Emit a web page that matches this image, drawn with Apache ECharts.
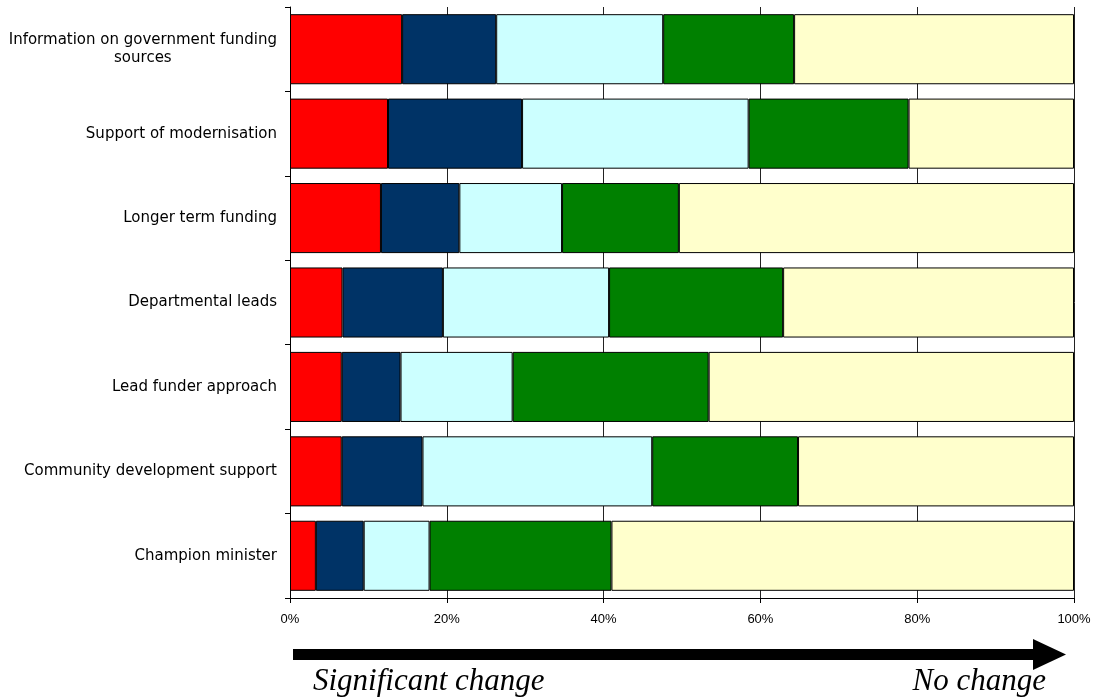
<!DOCTYPE html>
<html>
<head>
<meta charset="utf-8">
<script src="https://cdn.jsdelivr.net/npm/echarts@6/dist/echarts.min.js"></script>
<style>
  html, body { margin: 0; padding: 0; background: #fff; }
  #chart { width: 1095px; height: 697px; }
</style>
</head>
<body>
<div id="chart"></div>
<script>
// Measures, top to bottom
const categories = [
  'Information on government funding\nsources',
  'Support of modernisation',
  'Longer term funding',
  'Departmental leads',
  'Lead funder approach',
  'Community development support',
  'Champion minister'
];

// Share of responses (%) per level, from significant change to no change
const level1 = [14.3, 12.5, 11.6, 6.7, 6.6, 6.6, 3.3];
const level2 = [12.0, 17.1, 10.0, 12.8, 7.5, 10.3, 6.1];
const level3 = [21.3, 28.9, 13.1, 21.2, 14.3, 29.3, 8.4];
const level4 = [16.7, 20.4, 14.9, 22.2, 25.0, 18.6, 23.2];
const level5 = [35.7, 21.1, 50.4, 37.1, 46.6, 35.2, 59.0];

const levelNames = ['Level 1', 'Level 2', 'Level 3', 'Level 4', 'Level 5'];
const levelColors = ['#ff0000', '#003366', '#ccffff', '#008000', '#ffffcc'];
const levelData = [level1, level2, level3, level4, level5];

const xTicks = [0, 20, 40, 60, 80, 100];

const chart = echarts.init(document.getElementById('chart'));

// Multi-line category labels are centred within their own block
function categoryLabel(value) {
  const lines = value.split('\n');
  if (lines.length === 1) return value;
  return lines.map(l => '{c|' + l + '}').join('\n');
}

const labelFont = 'DejaVu Sans, Verdana, sans-serif';
const labelSize = 15;

chart.setOption({
  backgroundColor: '#ffffff',
  animation: false,
  grid: { left: 290, right: 21, top: 7, bottom: 99, containLabel: false },
  xAxis: {
    type: 'value',
    min: 0,
    max: 100,
    interval: 20,
    axisLine: { show: true, lineStyle: { color: '#000', width: 1 } },
    axisTick: { show: true, length: 5, lineStyle: { color: '#000' } },
    splitLine: { show: true, lineStyle: { color: '#222', width: 1 } },
    axisLabel: {
      margin: 15,
      fontFamily: 'Liberation Sans, Arial, sans-serif',
      fontSize: 13,
      color: '#000',
      formatter: v => (xTicks.includes(v) ? v + '%' : '')
    }
  },
  yAxis: {
    type: 'category',
    data: categories,
    inverse: true,
    axisLine: { show: true, lineStyle: { color: '#000', width: 1 } },
    axisTick: { show: true, length: 5, lineStyle: { color: '#000' } },
    splitLine: { show: false },
    axisLabel: {
      margin: 13,
      fontFamily: labelFont,
      fontSize: labelSize,
      color: '#000',
      lineHeight: 18,
      formatter: categoryLabel,
      rich: {
        c: {
          align: 'center',
          fontFamily: labelFont,
          fontSize: labelSize,
          lineHeight: 18,
          color: '#000'
        }
      }
    }
  },
  series: levelData.map((d, i) => ({
    name: levelNames[i],
    type: 'bar',
    stack: 'total',
    data: d,
    barCategoryGap: '17%',
    itemStyle: { color: levelColors[i], borderColor: '#000', borderWidth: 1 }
  })),
  graphic: [
    {
      type: 'rect',
      shape: { x: 293, y: 649, width: 742, height: 11 },
      style: { fill: '#000' }
    },
    {
      type: 'polygon',
      shape: { points: [[1033, 639], [1066, 654.5], [1033, 670]] },
      style: { fill: '#000' }
    },
    {
      type: 'text',
      left: 313,
      top: 666,
      style: {
        text: 'Significant change',
        fontFamily: 'Liberation Serif, Times New Roman, serif',
        fontStyle: 'italic',
        fontSize: 31,
        fill: '#000'
      }
    },
    {
      type: 'text',
      right: 49,
      top: 666,
      style: {
        text: 'No change',
        fontFamily: 'Liberation Serif, Times New Roman, serif',
        fontStyle: 'italic',
        fontSize: 31,
        fill: '#000'
      }
    }
  ]
});
</script>
</body>
</html>
